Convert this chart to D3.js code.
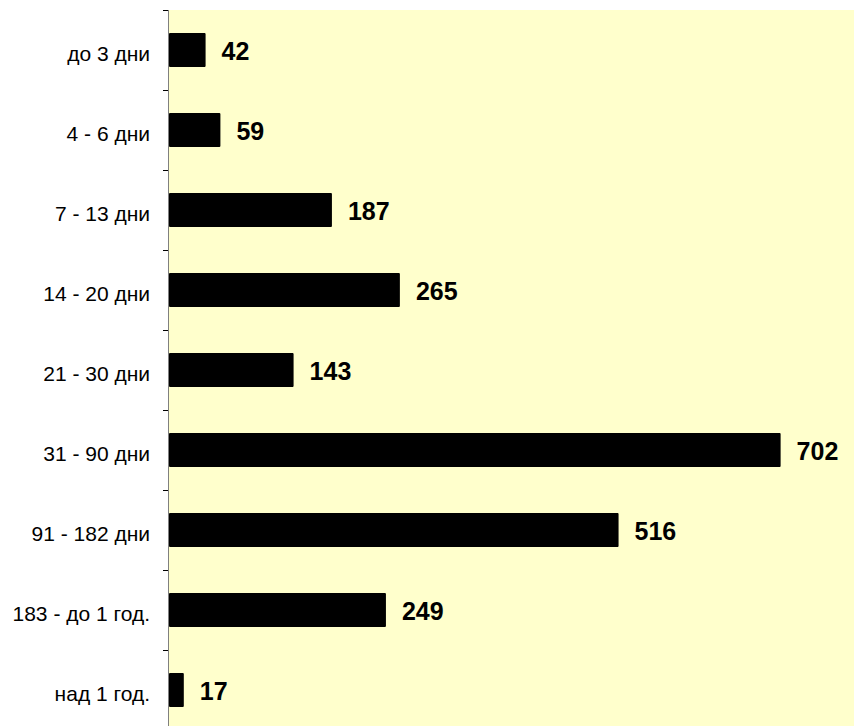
<!DOCTYPE html>
<html>
<head>
<meta charset="utf-8">
<script src="https://cdn.jsdelivr.net/npm/d3@7"></script>
<style>
  body { margin: 0; background: #fff; }
  svg { display: block; font-family: "Liberation Sans", Arial, sans-serif; }
</style>
</head>
<body>
<div id="chart"></div>
<script>
'use strict';
// durations of stay and number of cases
const categories = ["до 3 дни", "4 - 6 дни", "7 - 13 дни", "14 - 20 дни", "21 - 30 дни",
  "31 - 90 дни", "91 - 182 дни", "183 - до 1 год.", "над 1 год."];
const values = [42, 59, 187, 265, 143, 702, 516, 249, 17];
const xMax = 800;

const width = 854, height = 726;
const plotLeft = 169, plotTop = 10;

const svg = d3.select("#chart").append("svg")
  .attr("width", width)
  .attr("height", height);

const y = d3.scaleBand()
  .domain(categories)
  .range([plotTop, plotTop + 80 * categories.length])
  .padding(0);

const x = d3.scaleLinear()
  .domain([0, xMax])
  .range([plotLeft, plotLeft + 697]);

// plot area
svg.append("rect")
  .attr("x", plotLeft)
  .attr("y", plotTop)
  .attr("width", x(xMax) - plotLeft)
  .attr("height", y.range()[1] - plotTop)
  .attr("fill", "#ffffcc");

const barH = y.bandwidth() * 0.425;

svg.append("g").selectAll("rect")
  .data(values)
  .join("rect")
  .attr("x", x(0))
  .attr("y", (d, i) => y(categories[i]) + (y.bandwidth() - barH) / 2)
  .attr("width", d => x(d) - x(0))
  .attr("height", barH)
  .attr("rx", 1)
  .attr("fill", "#000");

// value labels
svg.append("g").selectAll("text")
  .data(values)
  .join("text")
  .attr("x", d => x(d) + 16)
  .attr("y", (d, i) => y(categories[i]) + y.bandwidth() / 2 + 10)
  .attr("font-size", 25)
  .attr("font-weight", "bold")
  .attr("fill", "#000")
  .text(d => d);

// category axis
const axis = svg.append("g")
  .attr("transform", "translate(" + plotLeft + ",0)")
  .call(d3.axisLeft(y).tickSize(0).tickPadding(19));
axis.select("path").remove();
axis.selectAll("text")
  .attr("font-size", 21)
  .attr("fill", "#000")
  .attr("font-family", "Liberation Sans, Arial, sans-serif")
  .attr("dy", "0.53em");

// ticks between categories
const bounds = categories.map(c => y(c)).concat([y.range()[1]]);
svg.append("g").selectAll("line")
  .data(bounds)
  .join("line")
  .attr("x1", plotLeft - 6)
  .attr("x2", plotLeft)
  .attr("y1", d => d + 0.5)
  .attr("y2", d => d + 0.5)
  .attr("stroke", "#000");

svg.append("line")
  .attr("x1", plotLeft - 0.5)
  .attr("x2", plotLeft - 0.5)
  .attr("y1", plotTop)
  .attr("y2", y.range()[1])
  .attr("stroke", "#808080");
</script>
</body>
</html>
